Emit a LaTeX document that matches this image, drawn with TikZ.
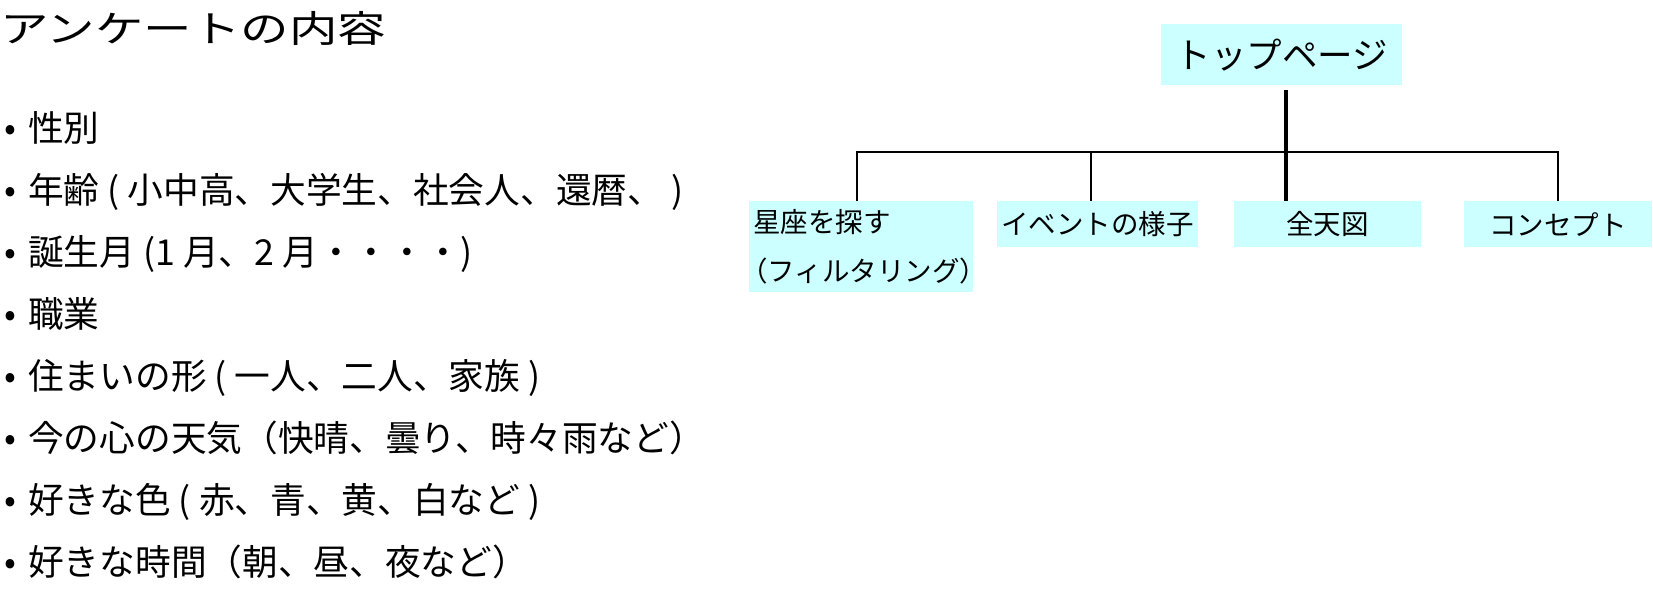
\documentclass[tikz,border=0pt]{standalone}
\usepackage{fontspec}
\newfontfamily\jp{Noto Sans CJK JP}
\definecolor{boxfill}{RGB}{204,255,255}
\begin{document}
\begin{tikzpicture}[x=1pt,y=-1pt,
  titletext/.style={anchor=base west, inner sep=0pt, font=\jp\fontsize{37}{37}\selectfont},
  itemtext/.style={anchor=base west, inner sep=0pt, font=\jp\fontsize{35.7}{35.7}\selectfont},
  bul/.style={anchor=base, inner sep=0pt, font=\jp\fontsize{35}{35}\selectfont},
  topbox/.style={anchor=north west, fill=boxfill, inner sep=0pt, align=center,
    minimum width=241pt, minimum height=61pt, font=\jp\fontsize{35.5}{35.5}\selectfont},
  pagebox/.style={anchor=north west, fill=boxfill, inner sep=0pt, align=center,
    minimum height=46pt, font=\jp\fontsize{27.5}{49}\selectfont},
  branch/.style={line width=2.4pt, line join=miter},
  trunk/.style={line width=4pt}
]
\useasboundingbox (0,0) rectangle (1653,591);

% left: questionnaire contents
\node[titletext] (title) at (0,42.6) {\scalebox{1.31}[1]{アンケートの内容}};

\node[bul] (b1) at (10.5,140.5) {•};
\node[bul] (b2) at (10.5,202.5) {•};
\node[bul] (b3) at (10.5,264.5) {•};
\node[bul] (b4) at (10.5,326.5) {•};
\node[bul] (b5) at (10.5,388.5) {•};
\node[bul] (b6) at (10.5,450.5) {•};
\node[bul] (b7) at (10.5,512.5) {•};
\node[bul] (b8) at (10.5,574.5) {•};

\node[itemtext] (i1) at (28,141.5) {性別};
\node[itemtext] (i2) at (28,203.5) {年齢 ( 小中高、大学生、社会人、還暦、 )};
\node[itemtext] (i3) at (28,265.5) {誕生月 (1 月、2 月・・・・)};
\node[itemtext] (i4) at (28,327.5) {職業};
\node[itemtext] (i5) at (28,389.5) {住まいの形 ( 一人、二人、家族 )};
\node[itemtext] (i6) at (28,451.5) {今の心の天気（快晴、曇り、時々雨など）};
\node[itemtext] (i7) at (28,513.5) {好きな色 ( 赤、青、黄、白など )};
\node[itemtext] (i8) at (28,575.5) {好きな時間（朝、昼、夜など）};

% right: site tree
\node[topbox] (top) at (1161,24) {トップページ};

\node[pagebox, minimum width=224pt, minimum height=91pt, text width=216pt, align=left]
  (seiza) at (749,201) {星座を探す\\\hspace*{-13pt}（フィルタリング）};
\node[pagebox, minimum width=201pt] (event) at (997,201) {イベントの様子};
\node[pagebox, minimum width=187pt] (allsky) at (1234,201) {全天図};
\node[pagebox, minimum width=188pt] (concept) at (1464,201) {コンセプト};

\coordinate (tstart) at (1286,90);
\coordinate (bl) at (857,152);
\coordinate (bev) at (1091,152);
\coordinate (br) at (1558,152);

\draw[branch] (seiza.north -| bl) -- (bl) -- (br) -- (concept.north -| br);
\draw[branch] (bev) -- (event.north -| bev);
\draw[trunk] (tstart) -- (allsky.north -| tstart);
\end{tikzpicture}
\end{document}
